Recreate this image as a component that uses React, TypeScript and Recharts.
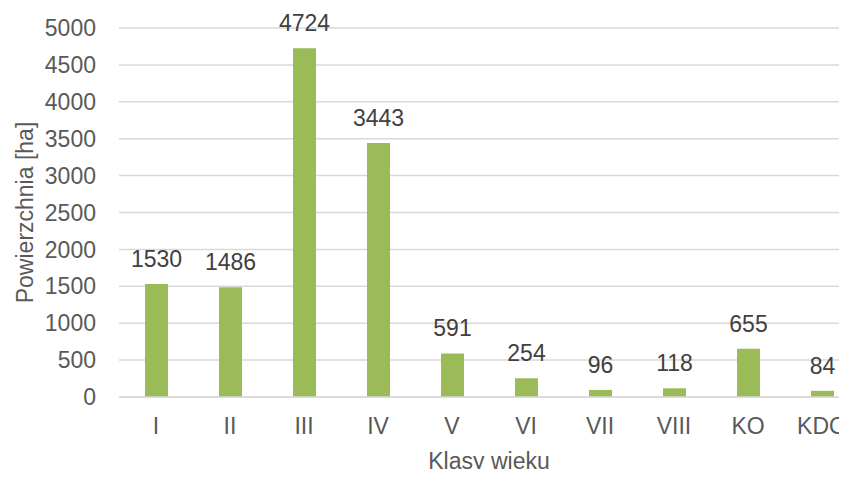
import React from "react";
import { BarChart, Bar, XAxis, YAxis, CartesianGrid, LabelList, Label } from "recharts";

const categories = ["I", "II", "III", "IV", "V", "VI", "VII", "VIII", "KO", "KDO"];
const values = [1530, 1486, 4724, 3443, 591, 254, 96, 118, 655, 84];
const yTicks = [0, 500, 1000, 1500, 2000, 2500, 3000, 3500, 4000, 4500, 5000];
const xTitle = "Klasy wieku";
const yTitle = "Powierzchnia [ha]";

const data = categories.map((c, i) => ({ name: c, value: values[i] }));

const FONT = "'Liberation Sans', Arial, sans-serif";
const FS = 23;

export default function App() {
  return (
    <div style={{ width: 847, height: 477, overflow: "hidden", margin: -8, background: "#fff" }}>
      <BarChart
        width={880}
        height={477}
        data={data}
        margin={{ top: 28, right: 21, bottom: 0, left: 0 }}
        style={{ fontFamily: FONT }}
      >
        <CartesianGrid vertical={false} stroke="#d9d9d9" strokeWidth={1.5} />
        <XAxis
          dataKey="name"
          height={80}
          tickLine={false}
          axisLine={{ stroke: "#d9d9d9", strokeWidth: 1.5 }}
          tick={{ fill: "#595959", fontSize: FS, fontFamily: FONT }}
          tickMargin={15}
          interval={0}
        >
          <Label
            value={xTitle}
            content={({ viewBox }: any) => (
              <text
                x={viewBox.x + viewBox.width / 2}
                y={469}
                textAnchor="middle"
                fill="#595959"
                fontSize={FS}
                fontFamily={FONT}
              >
                {xTitle}
              </text>
            )}
          />
        </XAxis>
        <YAxis
          width={119}
          domain={[0, 5000]}
          ticks={yTicks}
          interval={0}
          tickLine={false}
          axisLine={false}
          tick={{ fill: "#595959", fontSize: FS, fontFamily: FONT }}
          tickMargin={17}
        >
          <Label
            value={yTitle}
            content={({ viewBox }: any) => {
              const cy = viewBox.y + viewBox.height / 2;
              return (
                <text
                  x={33}
                  y={cy}
                  transform={`rotate(-90 33 ${cy})`}
                  textAnchor="middle"
                  fill="#595959"
                  fontSize={FS}
                  fontFamily={FONT}
                >
                  {yTitle}
                </text>
              );
            }}
          />
        </YAxis>
        <Bar dataKey="value" fill="#9bbb59" barSize={23} isAnimationActive={false}>
          <LabelList dataKey="value" position="top" offset={17} fill="#404040" fontSize={FS} fontFamily={FONT} />
        </Bar>
      </BarChart>
    </div>
  );
}
